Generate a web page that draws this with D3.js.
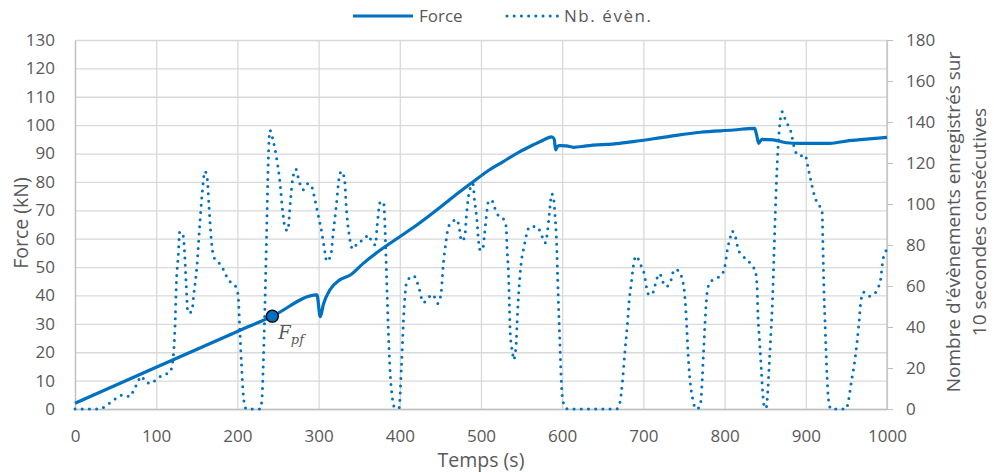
<!DOCTYPE html>
<html><head><meta charset="utf-8">
<script src="https://cdn.jsdelivr.net/npm/d3@7"></script>
<style>
body{margin:0;background:#fff;}
text{font-family:"Open Sans",sans-serif;fill:#595959;}
</style></head>
<body><svg id="c" width="994" height="472"></svg>
<script>
// ---- data ----
const forceTime = [0,100,200,243,298,302,306,314,326,339,355,376,400,421,445,466,490,507,527,548,564,577,587,590,592,594,597,605,614,630,671,688,729,770,811,837,839,842,844,846,860,876,893,930,950,971,1000];
const forceValues = [2,14.7,27.3,32.7,40.2,32.5,37,42,45.5,47.2,51.3,56,60.7,64.8,70,74.8,80,83.6,87.1,90.7,93,94.8,95.9,95.2,91.3,92.5,92.8,92.7,92.2,92.7,93.6,94.2,95.9,97.5,98.3,98.9,97.1,93.6,94.4,95,94.8,93.8,93.6,93.6,94.4,95,95.7];
const eventTime = [0,30,43,60,68,72,76,82,87,94,101,109,117,121,123,125,127,129,133,135,137,139,144,146,150,154,157,160,163,165,168,171,180,189,199,201,203,205,208,211,228,230,233,236,238,240,244,248,252,256,259,262,265,268,272,276,281,287,291,295,299,304,308,310,315,318,322,325,328,332,334,338,342,348,357,361,365,370,372,376,380,382,384,386,389,394,399,402,405,408,412,417,423,429,435,439,443,447,451,453,457,460,464,470,473,476,480,482,484,488,490,492,495,497,499,502,504,507,509,513,517,521,527,531,532,534,535,536,539,540,543,545,547,550,553,556,560,568,573,579,581,583,585,587,589,591,593,595,597,599,601,607,667,671,674,677,680,683,685,687,691,695,698,701,704,707,712,716,720,724,728,733,738,743,747,751,753,755,757,761,765,770,772,774,776,778,780,784,790,798,801,803,807,809,813,817,822,828,834,838,840,841,843,845,847,849,851,853,855,857,859,861,863,865,868,871,874,878,882,885,888,893,899,903,907,911,915,920,921,922,924,926,928,931,950,952,956,961,965,968,971,978,985,989,992,995,998,1000];
const eventValues = [0,0,3,7,6,9,12,16,13,12.5,15,16.6,18,25.5,38.5,63,74,86.5,85,76,60,47,47.5,55,69,92,107,116,112,99,82,74,70,63,59,55,38.5,22,4,0,0,4,37,86,121,136,131,123,112,95.5,88,87,100,112,117,111,107,110,109,103,95.5,86,76,72,75,86,100,112,116,112,99,84,78,81,83,85,82,80,89,101,101,86,61,37,12.5,0.5,0.5,20.6,47,61,64,65,60,52,54,56,54.5,51.5,57,68,82,89,91,92.5,89,82,84,94,102,109,110,102,92,82,77.6,77.6,84,95.5,101,102,98,94.6,93,89,79,64.5,50,37,27,24,30,47,60,73,79,85,89,89,86.5,81,84,90.6,98.7,105,103.6,95.5,82,56,33.7,12.5,3.6,0,0,3,12.5,27,40,55,61,68,74.6,72,69,66,59,55.6,57,63,66,62,59.7,61.6,68,67.5,64.5,55,43.4,27,15.7,4.4,0,1.5,11,27,43,55,60,62.6,63.7,66.5,71,76.7,83.7,86.8,84.4,77.6,74.8,72.7,69.8,67,59.7,46.7,33.7,20.6,7.6,1,0.3,7.6,22,37,53,77.6,102,121.5,139,145,142,138.5,134.8,128.8,125,123.4,124,117.4,110,103.6,100,97,82,63,38.5,17.4,4.4,0,0,3,13,25.5,40,53,57,55,56.4,59,63,72.7,76.7,77.6];
const xTicks = [0,100,200,300,400,500,600,700,800,900,1000];
const yLeftTicks = [0,10,20,30,40,50,60,70,80,90,100,110,120,130];
const yRightTicks = [0,20,40,60,80,100,120,140,160,180];
const markerPoint = {t:243, f:32.7};
const seriesNames = ["Force","Nb. évèn."];

// ---- chart ----
const svg = d3.select("#c");
const L=75, R=887, T=40, B=409;
const color="#0070C0";
const x = d3.scaleLinear().domain([0,1000]).range([L,R]);
const yL = d3.scaleLinear().domain([0,130]).range([B,T]);
const yR = d3.scaleLinear().domain([0,180]).range([B,T]);

// grid
const g = svg.append("g");
g.selectAll(".hg").data(yLeftTicks).enter().append("line")
 .attr("x1",L).attr("x2",R).attr("y1",d=>yL(d)+0.5).attr("y2",d=>yL(d)+0.5)
 .attr("stroke","#d9d9d9").attr("stroke-width",1.3);
g.selectAll(".vg").data(xTicks).enter().append("line")
 .attr("y1",T).attr("y2",B).attr("x1",d=>x(d)+0.5).attr("x2",d=>x(d)+0.5)
 .attr("stroke","#d9d9d9").attr("stroke-width",1.3);

// axes
const axB = svg.append("g").attr("transform",`translate(0,${B})`)
 .call(d3.axisBottom(x).tickValues(xTicks).tickSize(0).tickPadding(21).tickFormat(d3.format("d")));
const axL = svg.append("g").attr("transform",`translate(${L},0)`)
 .call(d3.axisLeft(yL).tickValues(yLeftTicks).tickSize(0).tickPadding(20).tickFormat(d3.format("d")));
const axR = svg.append("g").attr("transform",`translate(${R},0)`)
 .call(d3.axisRight(yR).tickValues(yRightTicks).tickSize(6).tickPadding(13).tickFormat(d3.format("d")));
[axB,axL,axR].forEach(a=>{
  a.select(".domain").attr("stroke","#bfbfbf").attr("stroke-width",1.3);
  a.selectAll(".tick line").attr("stroke","#bfbfbf");
  a.selectAll("text").style("font-family","'Open Sans',sans-serif").style("font-size","17px").attr("fill","#595959");
});
axR.select(".domain").attr("d",`M0,${T}V${B}`);

// lines
const lineF = d3.line().x((d,i)=>x(forceTime[i])).y(d=>yL(d)).curve(d3.curveMonotoneX);
const lineE = d3.line().x((d,i)=>x(eventTime[i])).y(d=>yR(d)).curve(d3.curveMonotoneX);
svg.append("path").attr("d",lineE(eventValues)).attr("fill","none").attr("stroke",color)
 .attr("stroke-width",3).attr("stroke-dasharray","0 7.2").attr("stroke-linecap","round");
svg.append("path").attr("d",lineF(forceValues)).attr("fill","none").attr("stroke",color)
 .attr("stroke-width",3.2).attr("stroke-linejoin","round");

// marker
svg.append("circle").attr("cx",x(markerPoint.t)).attr("cy",yL(markerPoint.f)).attr("r",6)
 .attr("fill",color).attr("stroke","#000").attr("stroke-width",1.3);
const ann = svg.append("text").attr("x",x(markerPoint.t)+6).attr("y",yL(markerPoint.f)+23)
 .style("font-family","'DejaVu Serif','Liberation Serif',serif").style("font-style","italic").attr("fill","#000");
ann.append("tspan").text("F").style("font-size","18px");
ann.append("tspan").text("pf").attr("dy",5).style("font-size","13px");

// axis titles
svg.append("text").attr("transform","translate(28,223) rotate(-90)").attr("text-anchor","middle")
 .style("font-size","19.5px").text("Force (kN)");
svg.append("text").attr("x",481).attr("y",467).attr("text-anchor","middle")
 .style("font-size","19.5px").text("Temps (s)");
const rt = svg.append("text").attr("transform","translate(960,222) rotate(-90)").attr("text-anchor","middle")
 .style("font-size","19px");
rt.append("tspan").attr("x",0).attr("dy",0).text("Nombre d'évènements enregistrés sur");
rt.append("tspan").attr("x",0).attr("dy",26).text("10 secondes consécutives");

// legend
const lg = svg.append("g");
lg.append("line").attr("x1",353).attr("x2",413).attr("y1",16).attr("y2",16).attr("stroke",color).attr("stroke-width",3.2);
lg.append("text").attr("x",419).attr("y",22).style("font-size","17px").text(seriesNames[0]);
lg.append("line").attr("x1",507).attr("x2",558).attr("y1",16).attr("y2",16).attr("stroke",color)
 .attr("stroke-width",3).attr("stroke-dasharray","0 7.2").attr("stroke-linecap","round");
lg.append("text").attr("x",564).attr("y",22).style("font-size","17px")
 .attr("textLength",87).attr("lengthAdjust","spacing").text(seriesNames[1]);
</script></body></html>
